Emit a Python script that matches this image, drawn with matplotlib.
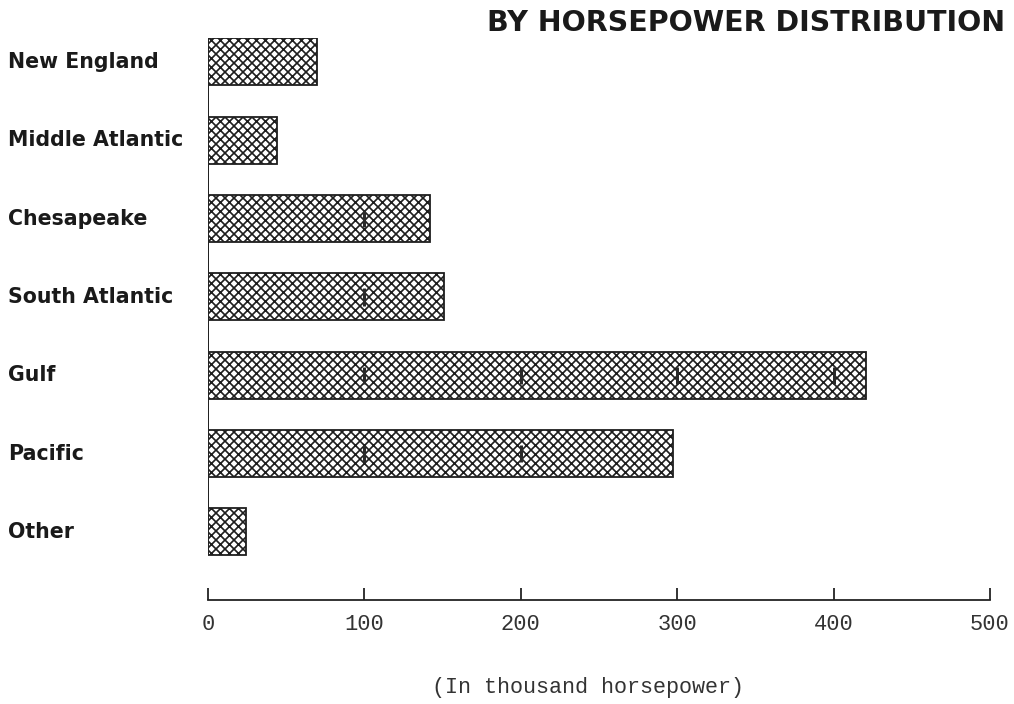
import numpy as np
import matplotlib.pyplot as plt

regions = ["New England", "Middle Atlantic", "Chesapeake", "South Atlantic",
           "Gulf", "Pacific", "Other"]
horsepower = [70, 44, 142, 151, 421, 297, 24]  # thousand hp
xticks = [0, 100, 200, 300, 400, 500]

DPI = 81
px = 72 / DPI  # points per pixel

plt.rcParams['hatch.linewidth'] = 1.5
plt.rcParams['hatch.color'] = '#1e1e1e'

fig = plt.figure(figsize=(1014 / DPI, 704 / DPI), dpi=DPI)
ax = fig.add_axes([208 / 1014, 1 - 600 / 704, 782 / 1014, (600 - 37.7) / 704])

y = np.arange(len(regions))
ax.barh(y, horsepower, height=0.6, color='white', edgecolor='#1e1e1e',
        linewidth=1.8 * px, hatch='xxx')

# small marks inside bars at each hundred
for yi, v in zip(y, horsepower):
    for t in xticks[1:]:
        if t < v:
            ax.vlines(t, yi - 0.11, yi + 0.11, color='#2a2a2a',
                      linewidth=3 * px, zorder=3)

ax.vlines(0, -0.3, len(regions) - 0.7, color='#222222', linewidth=2 * px)

ax.set_xlim(0, 500)
ax.set_ylim(len(regions) - 1 + 0.87, -0.31)
ax.set_yticks([])
for s in ['left', 'right', 'top']:
    ax.spines[s].set_visible(False)
ax.spines['bottom'].set_linewidth(1.8 * px)
ax.spines['bottom'].set_color('#222222')

ax.set_xticks(xticks)
ax.set_xticklabels([str(t) for t in xticks], family='Liberation Mono',
                   fontsize=22 * px, color='#333333')
ax.tick_params(axis='x', direction='in', length=12 * px, width=1.8 * px,
               pad=14 * px, color='#222222')

for yi, name in zip(y, regions):
    fig.text(8 / 1014, 1 - (62 + 78.3 * yi) / 704, name, ha='left',
             va='center', fontsize=20.5 * px, fontweight='bold',
             family='DejaVu Sans', color='#1a1a1a')

fig.text(1005 / 1014, 1 - 23 / 704, "BY HORSEPOWER DISTRIBUTION", ha='right',
         va='center', fontsize=28.5 * px, fontweight='bold',
         family='DejaVu Sans', color='#1a1a1a')

fig.text(588 / 1014, 1 - 688 / 704, "(In thousand horsepower)", ha='center',
         va='center', fontsize=21.7 * px, family='Liberation Mono',
         color='#333333')

fig.savefig("out.png", dpi=DPI)
